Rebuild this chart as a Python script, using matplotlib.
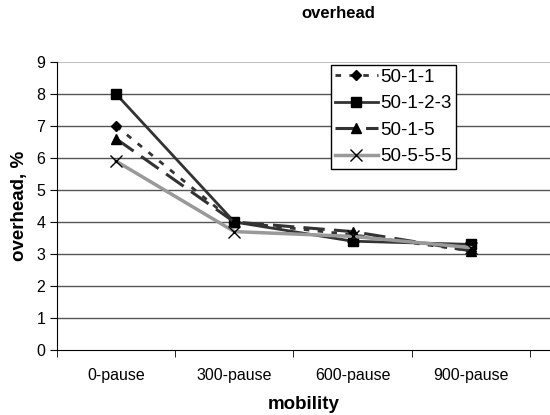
import matplotlib.pyplot as plt
import numpy as np

plt.rcParams['font.family'] = ['Liberation Sans', 'DejaVu Sans']

# mobility categories
mobility = ['0-pause', '300-pause', '600-pause', '900-pause']

# overhead, %
s_50_1_1 = [7.0, 4.0, 3.6, 3.1]
s_50_1_2_3 = [8.0, 4.0, 3.4, 3.3]
s_50_1_5 = [6.6, 4.0, 3.7, 3.1]
s_50_5_5_5 = [5.9, 3.7, 3.55, 3.2]

fig = plt.figure(figsize=(5.5, 4.15), dpi=100)
ax = fig.add_axes([57 / 550, 65 / 415, 1 - 57 / 550, (350 - 62) / 415])

x = np.arange(len(mobility))

ax.plot(x, s_50_1_1, color='#333333', lw=2, linestyle=(0, (2, 3)),
        marker='D', ms=5, mfc='black', mec='black', label='50-1-1')
ax.plot(x, s_50_1_2_3, color='#333333', lw=2, linestyle='-',
        marker='s', ms=7, mfc='black', mec='black', label='50-1-2-3')
ax.plot(x, s_50_1_5, color='#333333', lw=2.2, linestyle=(0, (7, 3)),
        marker='^', ms=7, mfc='black', mec='black', label='50-1-5')
ax.plot(x, s_50_5_5_5, color='#999999', lw=2.5, linestyle='-',
        marker='x', ms=8, mew=1, mec='black', label='50-5-5-5')

ax.set_ylim(0, 9)
ax.set_yticks(range(10))
ax.set_xlim(-0.5, 3.67)
ax.set_xticks(x)
ax.set_xticklabels(mobility, fontsize=11.5)
ax.set_xticks(np.arange(-0.5, 3.6, 1), minor=True)
ax.tick_params(axis='x', which='major', length=0, pad=13)
ax.tick_params(axis='x', which='minor', length=5, direction='out')
ax.tick_params(axis='y', labelsize=11.5, length=5)

for v in range(1, 9):
    ax.axhline(v, color='#555555', lw=1, zorder=0)
ax.axhline(9, color='#c0c0c0', lw=1.5, zorder=0)

ax.spines['top'].set_visible(False)
ax.spines['right'].set_visible(False)

ax.set_xlabel('mobility', fontsize=13.5, fontweight='bold', labelpad=9)
ax.set_ylabel('overhead, %', fontsize=13.5, fontweight='bold', labelpad=6)
fig.text(338 / 550, 1 - 14 / 415, 'overhead', fontsize=12, fontweight='bold',
         ha='center', va='center')

leg = ax.legend(loc='upper left', bbox_to_anchor=((331 - 57) / 493, (350 - 65) / 288),
                fontsize=13.5, frameon=True, fancybox=False, edgecolor='black',
                framealpha=1, borderpad=0.2, labelspacing=0.5, handlelength=2.3,
                handletextpad=0.15, borderaxespad=0)
leg.get_frame().set_linewidth(1)

plt.savefig('out.png', dpi=100)
